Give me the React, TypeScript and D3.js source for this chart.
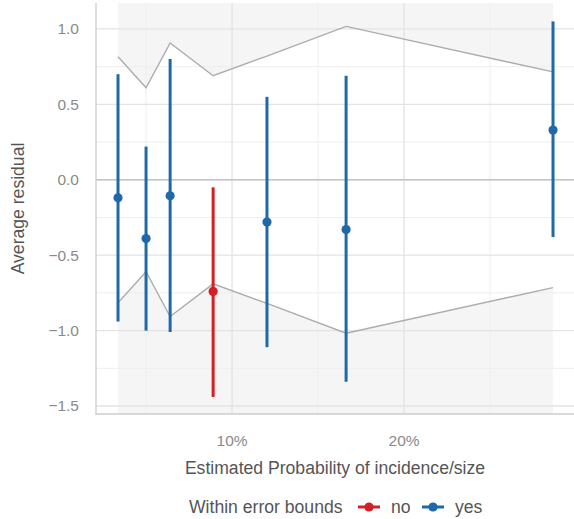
import * as d3 from 'd3';

// estimated probability (x), average residual, interval ends
const probs = [0.0337, 0.05, 0.064, 0.089, 0.1203, 0.1663, 0.2866];
const residuals = [-0.12, -0.39, -0.106, -0.74, -0.28, -0.33, 0.33];
const lowers = [-0.94, -1.0, -1.01, -1.44, -1.11, -1.34, -0.38];
const uppers = [0.70, 0.22, 0.80, -0.05, 0.55, 0.69, 1.05];
const within = ['yes', 'yes', 'yes', 'no', 'yes', 'yes', 'yes'];
// error bound (symmetric around zero)
const bounds = [0.815, 0.61, 0.907, 0.69, 0.82, 1.017, 0.715];

const yTicks = [-1.5, -1.0, -0.5, 0.0, 0.5, 1.0];
const yMinor = [-1.25, -0.75, -0.25, 0.25, 0.75];
const xTicks = [0.1, 0.2];
const xMinor = [0.05, 0.15, 0.25];

const W = 574;
const H = 519;
const FONT = '"Liberation Sans", Arial, sans-serif';
const colors = { no: '#d32027', yes: '#1f69a8' };

export default function App() {
  const x = d3.scaleLinear().domain([0.0209, 0.2988]).range([96, 574]);
  const y = d3.scaleLinear().domain([-1.553, 1.172]).range([414, 3]);
  const [top, bottom] = [y.range()[1], y.range()[0]];

  const pts = probs.map((p, i) => ({ p, b: bounds[i] }));
  const upperArea = d3.area<{ p: number; b: number }>()
    .x(d => x(d.p)).y0(top).y1(d => y(d.b));
  const lowerArea = d3.area<{ p: number; b: number }>()
    .x(d => x(d.p)).y0(bottom).y1(d => y(-d.b));
  const upperLine = d3.line<{ p: number; b: number }>().x(d => x(d.p)).y(d => y(d.b));
  const lowerLine = d3.line<{ p: number; b: number }>().x(d => x(d.p)).y(d => y(-d.b));

  const fmtPct = d3.format('.0%');
  const fmtY = (v: number) => d3.format('.1f')(v).replace('-', '\u2212');

  return (
    <svg width={W} height={H} style={{ position: 'absolute', left: 0, top: 0 }} fontFamily={FONT}>
      <rect width={W} height={H} fill="#fff" />
      {/* shaded region outside the bounds */}
      <path d={upperArea(pts) || ''} fill="#f5f5f5" />
      <path d={lowerArea(pts) || ''} fill="#f5f5f5" />
      {/* grid */}
      {yMinor.map(v => (
        <line key={'ym' + v} x1={96} x2={574} y1={y(v)} y2={y(v)} stroke="#eeeeee" strokeWidth={1} />
      ))}
      {xMinor.map(v => (
        <line key={'xm' + v} x1={x(v)} x2={x(v)} y1={top} y2={bottom} stroke="#eeeeee" strokeWidth={1} />
      ))}
      {yTicks.map(v => (
        <line key={'y' + v} x1={96} x2={574} y1={y(v)} y2={y(v)} stroke="#e3e3e3" strokeWidth={1.3} />
      ))}
      {xTicks.map(v => (
        <line key={'x' + v} x1={x(v)} x2={x(v)} y1={top} y2={bottom} stroke="#e3e3e3" strokeWidth={1.3} />
      ))}
      {/* zero line */}
      <line x1={96} x2={574} y1={y(0)} y2={y(0)} stroke="#c4c4c4" strokeWidth={1.3} />
      {/* bound lines */}
      <path d={upperLine(pts) || ''} fill="none" stroke="#acacac" strokeWidth={1.4} />
      <path d={lowerLine(pts) || ''} fill="none" stroke="#acacac" strokeWidth={1.4} />
      {/* axes */}
      <line x1={96} x2={96} y1={top} y2={bottom + 1} stroke="#cccccc" strokeWidth={1.3} />
      <line x1={96} x2={574} y1={bottom} y2={bottom} stroke="#cccccc" strokeWidth={1.3} />
      {/* error bars and points */}
      {probs.map((p, i) => {
        const c = colors[within[i] as 'yes' | 'no'];
        return (
          <g key={'pt' + i}>
            <line x1={x(p)} x2={x(p)} y1={y(lowers[i])} y2={y(uppers[i])} stroke={c} strokeWidth={3} />
            <circle cx={x(p)} cy={y(residuals[i])} r={4.6} fill={c} />
          </g>
        );
      })}
      {/* tick labels */}
      {yTicks.map(v => (
        <text key={'yl' + v} x={79} y={y(v)} dy="0.35em" textAnchor="end" fontSize={15.5} fill="#8a8a8a">
          {fmtY(v)}
        </text>
      ))}
      {xTicks.map(v => (
        <text key={'xl' + v} x={x(v)} y={446} textAnchor="middle" fontSize={15.5} fill="#8a8a8a">
          {fmtPct(v)}
        </text>
      ))}
      {/* axis titles */}
      <text x={335} y={474} textAnchor="middle" fontSize={17.6} fill="#555">
        Estimated Probability of incidence/size
      </text>
      <text transform={`translate(24,${(top + bottom) / 2}) rotate(-90)`} textAnchor="middle" fontSize={17.6} fill="#555">
        Average residual
      </text>
      {/* legend */}
      <text x={189} y={513} fontSize={17.6} fill="#555">Within error bounds</text>
      {(['no', 'yes'] as const).map((k, i) => {
        const kx = 358 + i * 64;
        return (
          <g key={'lg' + k}>
            <line x1={kx} x2={kx + 22} y1={507} y2={507} stroke={colors[k]} strokeWidth={3} />
            <circle cx={kx + 11} cy={507} r={4.6} fill={colors[k]} />
            <text x={kx + 33} y={513} fontSize={17.6} fill="#555">{k}</text>
          </g>
        );
      })}
    </svg>
  );
}
